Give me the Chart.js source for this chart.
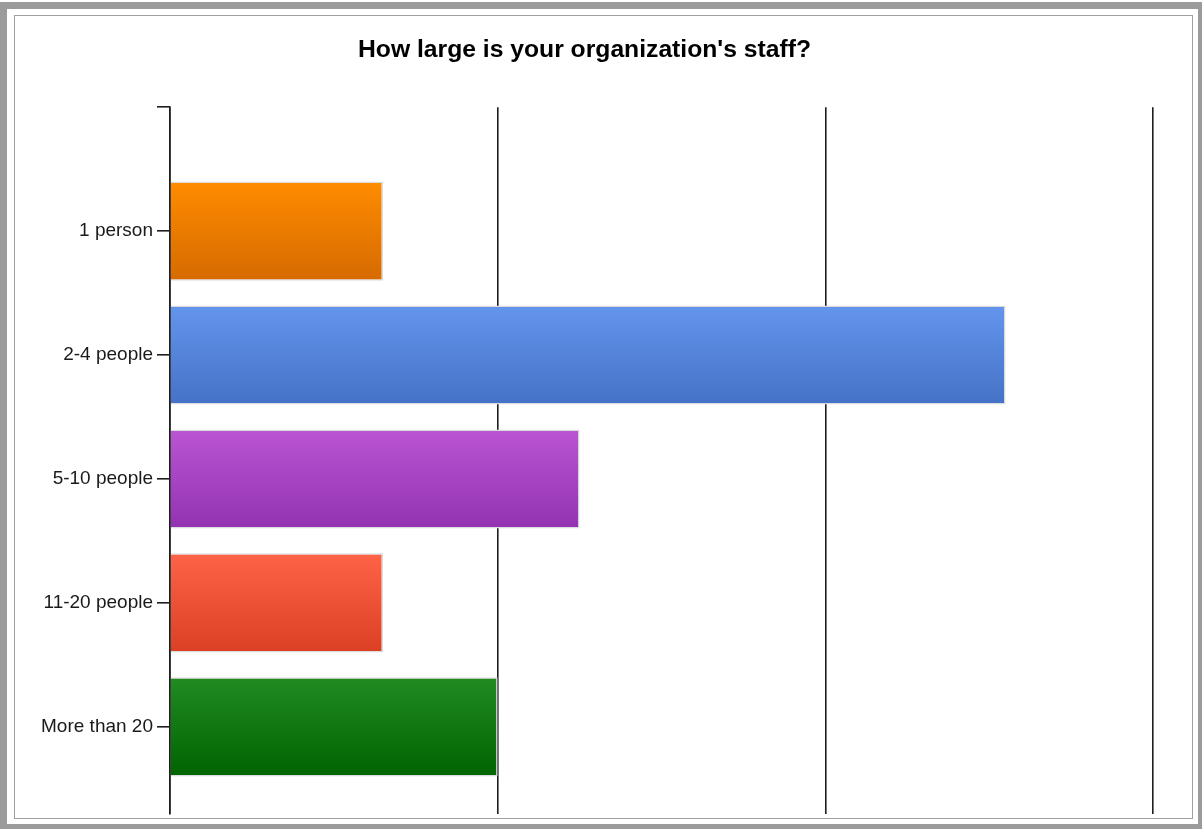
<!DOCTYPE html>
<html>
<head>
<meta charset="utf-8">
<script src="https://cdn.jsdelivr.net/npm/chart.js@4"></script>
<style>
  html, body { margin: 0; padding: 0; background: #fff; }
  .outer { position: absolute; left: 0; top: 2px; width: 1191px; height: 815px;
           border-style: solid; border-color: #9b9b9b; border-width: 7px 4px 5px 7px; }
  .inner { position: absolute; left: 14px; top: 15px; width: 1177px; height: 802px;
           border: 1px solid #a0a0a0; }
  #wrap { position: absolute; left: 0; top: 0; width: 1202px; height: 829px; }
</style>
</head>
<body>
<div class="outer"></div>
<div class="inner"></div>
<div id="wrap"><canvas id="chart"></canvas></div>
<script>
// categories, top to bottom
const categories = ["1 person", "2-4 people", "5-10 people", "11-20 people", "More than 20"];
const values = [6.5, 25.5, 12.5, 6.5, 10];
const topColors = ["#ff8c00", "#6495ed", "#ba55d3", "#ff6347", "#228b22"];
const bottomColors = ["#d66a00", "#4472c6", "#9232b2", "#dc4024", "#006400"];
const xTicks = [0, 10, 20, 30];
const yTicks = [-1, 0, 1, 2, 3, 4];

function barFill(ctx) {
    const chart = ctx.chart;
    const i = ctx.dataIndex;
    if (!chart.chartArea || !chart.scales.y) return topColors[i];
    const yScale = chart.scales.y;
    const y = yScale.getPixelForValue(i);
    const half = Math.abs(yScale.getPixelForValue(i + 1) - y) * 0.4;
    const g = chart.ctx.createLinearGradient(0, y - half, 0, y + half);
    g.addColorStop(0, topColors[i]);
    g.addColorStop(1, bottomColors[i]);
    return g;
}

const context = document.getElementById("chart").getContext("2d");
new Chart(context, {
    type: "bar",
    data: {
        datasets: [{
            data: values.map((v, i) => ({x: v, y: i})),
            backgroundColor: barFill,
            borderColor: "#dcdcdc",
            borderWidth: 1.5,
            categoryPercentage: 1,
            barPercentage: 0.8
        }]
    },
    options: {
        indexAxis: "y",
        responsive: true,
        maintainAspectRatio: false,
        animation: false,
        layout: { padding: { left: 16, right: 49, top: 15, bottom: 15 } },
        scales: {
            x: {
                type: "linear",
                min: 0,
                max: 30,
                afterBuildTicks: (scale) => { scale.ticks = xTicks.map(v => ({value: v})); },
                ticks: { display: false },
                grid: { color: "#1e1e1e", lineWidth: 1.6, drawTicks: false },
                border: { display: false }
            },
            y: {
                type: "linear",
                reverse: true,
                offset: false,
                min: -1,
                max: 4.7,
                afterBuildTicks: (scale) => { scale.ticks = yTicks.map(v => ({value: v})); },
                afterFit: (scale) => { scale.width = 154; },
                ticks: {
                    padding: 4,
                    color: "#1a1a1a",
                    font: { family: "Liberation Sans", size: 19 },
                    callback: (v) => categories[v] ?? ""
                },
                grid: { offset: false, drawOnChartArea: false, tickLength: 13, color: "#1e1e1e", lineWidth: 1.6 },
                border: { display: true, color: "#1e1e1e", width: 1.6 }
            }
        },
        plugins: {
            legend: { display: false },
            tooltip: { enabled: false },
            title: {
                display: true,
                text: "How large is your organization's staff?",
                color: "#000",
                font: { family: "Liberation Sans", size: 24.7, weight: "bold" },
                padding: { top: 20, bottom: 42.5 }
            }
        }
    }
});
</script>
</body>
</html>
